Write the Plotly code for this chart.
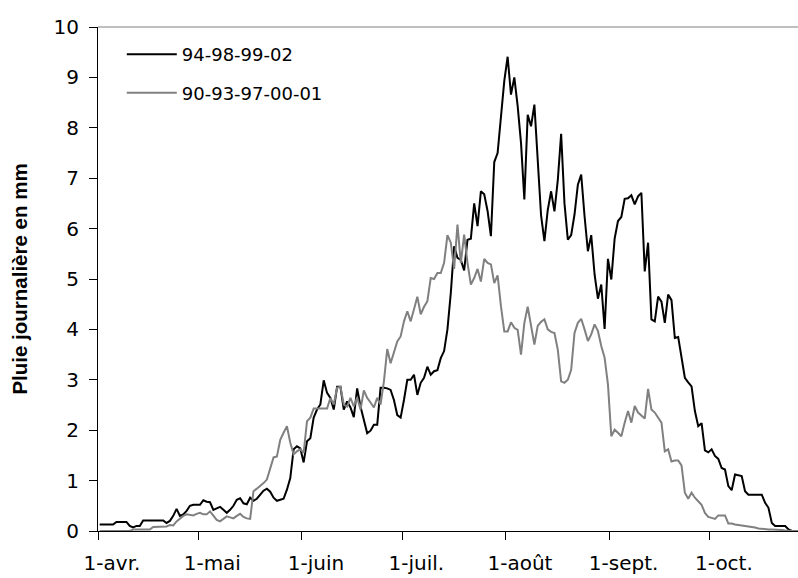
import pandas as pd
import plotly.graph_objects as go

# daily rainfall (mm), one value per day from 1 April
first_day = "2002-04-01 12:00"

rain_94_98_99_02 = [
    0.13, 0.13, 0.13, 0.13, 0.13, 0.18, 0.18, 0.18, 0.18, 0.10,
    0.07, 0.10, 0.10, 0.21, 0.21, 0.21, 0.21, 0.21, 0.21, 0.21,
    0.16, 0.20, 0.30, 0.44, 0.30, 0.33, 0.40, 0.50, 0.52, 0.52,
    0.52, 0.61, 0.58, 0.57, 0.42, 0.45, 0.48, 0.42, 0.36, 0.42,
    0.50, 0.62, 0.65, 0.55, 0.53, 0.66, 0.60, 0.64, 0.72, 0.80,
    0.84, 0.78, 0.66, 0.60, 0.62, 0.64, 0.82, 1.05, 1.62, 1.68,
    1.64, 1.36, 1.78, 1.84, 2.25, 2.41, 2.51, 2.99, 2.74, 2.64,
    2.41, 2.86, 2.86, 2.41, 2.57, 2.45, 2.26, 2.83, 2.47, 2.18,
    1.94, 1.99, 2.11, 2.11, 2.84, 2.84, 2.83, 2.80, 2.60, 2.30,
    2.25, 2.60, 3.00, 3.00, 3.10, 2.70, 2.94, 3.04, 3.26, 3.10,
    3.17, 3.19, 3.43, 3.57, 4.00, 4.72, 5.65, 5.42, 5.38, 5.17,
    5.78, 5.80, 6.50, 6.05, 6.74, 6.68, 6.35, 5.85, 7.32, 7.50,
    8.22, 8.93, 9.41, 8.66, 9.00, 8.43, 7.70, 6.58, 8.26, 8.03,
    8.46, 7.30, 6.26, 5.75, 6.37, 6.74, 6.34, 6.96, 7.88, 6.50,
    5.78, 5.87, 6.28, 6.87, 7.07, 6.25, 5.55, 5.87, 5.09, 4.61,
    4.89, 4.01, 5.40, 4.99, 5.80, 6.15, 6.23, 6.59, 6.60, 6.66,
    6.48, 6.64, 6.71, 5.15, 5.72, 4.20, 4.16, 4.65, 4.55, 4.13,
    4.69, 4.58, 3.83, 3.85, 3.45, 3.04, 2.95, 2.87, 2.38, 2.08,
    2.14, 1.60, 1.56, 1.62, 1.49, 1.43, 1.25, 1.22, 0.89, 0.81,
    1.12, 1.10, 1.09, 0.79, 0.72, 0.72, 0.72, 0.72, 0.72, 0.56,
    0.46, 0.16, 0.10, 0.10, 0.10, 0.10, 0.03, 0.00, 0.00, 0.00,
    0.00, 0.00, 0.00, 0.00,
]

rain_90_93_97_00_01 = [
    0.00, 0.00, 0.00, 0.00, 0.00, 0.00, 0.00, 0.00, 0.00, 0.00,
    0.03, 0.03, 0.03, 0.03, 0.03, 0.03, 0.08, 0.08, 0.08, 0.08,
    0.09, 0.12, 0.11, 0.19, 0.25, 0.30, 0.33, 0.32, 0.31, 0.34,
    0.36, 0.33, 0.33, 0.39, 0.30, 0.22, 0.19, 0.25, 0.29, 0.27,
    0.25, 0.30, 0.34, 0.28, 0.25, 0.24, 0.79, 0.84, 0.89, 0.95,
    1.02, 1.22, 1.46, 1.48, 1.81, 1.95, 2.08, 1.75, 1.52, 1.58,
    1.62, 1.55, 2.18, 2.25, 2.43, 2.43, 2.43, 2.43, 2.43, 2.64,
    2.51, 2.84, 2.86, 2.51, 2.47, 2.64, 2.47, 2.65, 2.41, 2.79,
    2.64, 2.55, 2.45, 2.64, 2.51, 2.97, 3.61, 3.33, 3.56, 3.76,
    3.86, 4.16, 4.36, 4.16, 4.40, 4.65, 4.30, 4.45, 4.56, 5.02,
    5.00, 5.12, 5.12, 5.32, 5.87, 5.72, 5.20, 6.08, 5.32, 5.88,
    5.32, 4.89, 5.02, 5.20, 4.95, 5.40, 5.32, 5.29, 4.92, 5.07,
    4.46, 3.96, 3.96, 4.14, 4.03, 3.99, 3.50, 4.13, 4.45, 4.06,
    3.70, 4.07, 4.15, 4.20, 4.00, 3.95, 3.93, 3.60, 2.97, 2.94,
    3.00, 3.20, 3.93, 4.13, 4.21, 4.00, 3.77, 3.90, 4.10, 3.97,
    3.67, 3.44, 2.91, 1.88, 2.01, 1.95, 1.88, 2.15, 2.38, 2.15,
    2.48, 2.35, 2.28, 2.23, 2.82, 2.41, 2.35, 2.25, 2.15, 1.58,
    1.62, 1.38, 1.40, 1.40, 1.30, 0.76, 0.64, 0.76, 0.66, 0.59,
    0.52, 0.36, 0.28, 0.26, 0.24, 0.31, 0.31, 0.31, 0.15, 0.15,
    0.13, 0.12, 0.11, 0.10, 0.10, 0.08, 0.07, 0.05, 0.04, 0.04,
    0.03, 0.03, 0.03, 0.03, 0.02, 0.01, 0.00, 0.00, 0.00, 0.00,
    0.00, 0.00, 0.00, 0.00,
]

month_ticks = ["2002-04-01", "2002-05-01", "2002-06-01", "2002-07-01",
               "2002-08-01", "2002-09-01", "2002-10-01"]
month_labels = ["1-avr.", "1-mai", "1-juin", "1-juil.", "1-août", "1-sept.", "1-oct."]

days = pd.date_range(first_day, periods=len(rain_94_98_99_02), freq="D")

fig = go.Figure()
fig.add_trace(go.Scatter(
    x=days, y=rain_94_98_99_02, mode="lines", name="94-98-99-02",
    legendgroup="a", line=dict(color="black", width=2)
))
fig.add_trace(go.Scatter(
    x=days, y=rain_90_93_97_00_01, mode="lines", name="90-93-97-00-01",
    legendgroup="b", line=dict(color="#808080", width=2)
))

fig.update_layout(
    width=798, height=578,
    margin=dict(l=98, r=0, t=27, b=47),
    plot_bgcolor="white", paper_bgcolor="white",
    font=dict(family="DejaVu Sans", size=18, color="black"),
    showlegend=True,
    legend=dict(x=0.034, y=0.982, xanchor="left", yanchor="top",
                bgcolor="rgba(0,0,0,0)", itemwidth=50, tracegroupgap=12,
                font=dict(family="DejaVu Sans", size=18)),
    xaxis=dict(type="date", range=["2002-04-01", "2002-10-27 08:00"],
               tickvals=month_ticks, ticktext=month_labels,
               tickfont=dict(size=20),
               ticks="outside", ticklen=8, tickcolor="black",
               showline=True, linecolor="black", linewidth=1,
               showgrid=False, zeroline=False,
               ticklabelstandoff=6, ticklabelshift=14),
    yaxis=dict(range=[0, 10], tick0=0, dtick=1,
               tickfont=dict(size=20),
               ticks="outside", ticklen=8, tickcolor="black",
               showline=True, linecolor="black", linewidth=1,
               showgrid=False, zeroline=False, ticklabelstandoff=6,
               title=dict(text="<b>Pluie journalière en mm</b>",
                          font=dict(family="Liberation Sans", size=20.5),
                          standoff=20)),
    shapes=[dict(type="line", xref="paper", yref="paper",
                 x0=0, x1=1, y0=1, y1=1,
                 line=dict(color="#808080", width=1))],
)

fig.write_html("out.html", config={"displayModeBar": False},
               post_script="document.body.style.margin='0px';")
